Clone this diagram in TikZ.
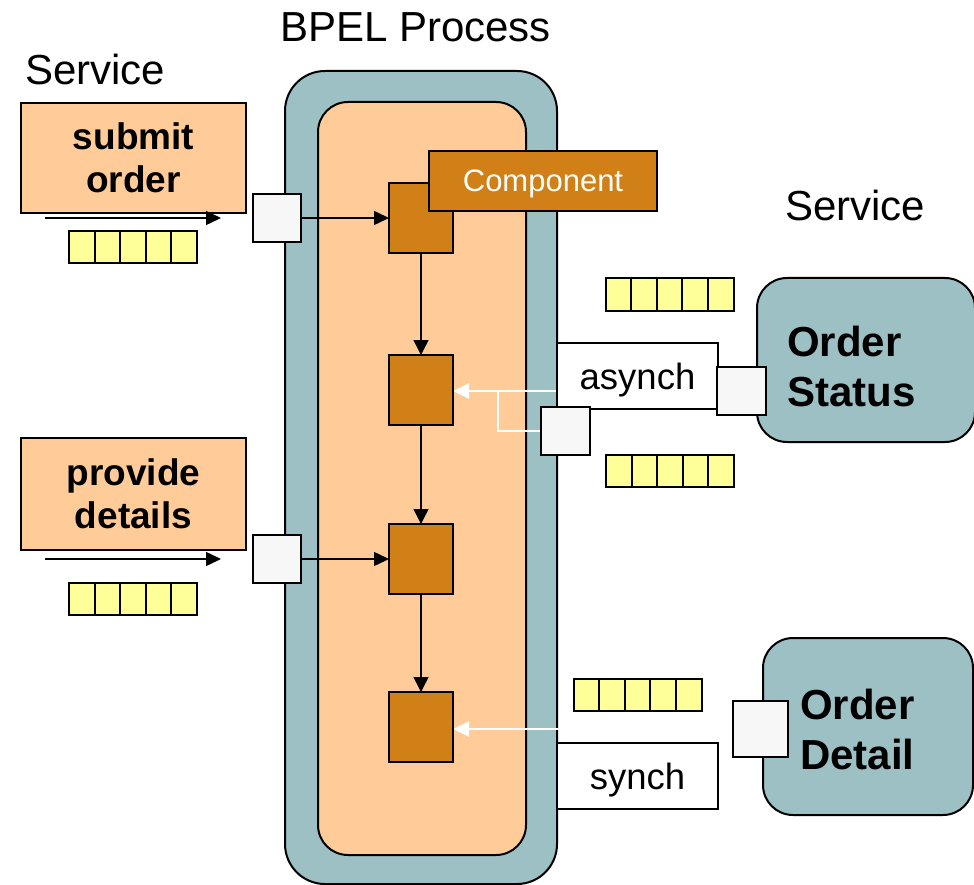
\documentclass[tikz,border=0pt]{standalone}
\usepackage{fontspec}
\setmainfont{Liberation Sans}
\usetikzlibrary{arrows.meta}
\definecolor{bpelblue}{RGB}{157,192,196}
\definecolor{peach}{RGB}{255,204,153}
\definecolor{comporange}{RGB}{208,128,22}
\definecolor{qyellow}{RGB}{255,255,153}
\definecolor{portgray}{RGB}{247,247,247}
\pgfdeclarelayer{back}
\pgfdeclarelayer{conn}
\pgfsetlayers{back,conn,main}
\begin{document}
\begin{tikzpicture}[x=1pt,y=-1pt,
  box/.style={draw=black, line width=2pt, inner sep=0pt, outer sep=0pt},
  portbox/.style={box, fill=portgray},
  compbox/.style={box, fill=comporange, minimum width=64pt, minimum height=70pt},
  svcbox/.style={box, fill=peach, minimum width=225pt, align=center,
     font=\fontsize{37pt}{43pt}\selectfont\bfseries},
  queue/.style={box, fill=qyellow, minimum width=128pt, minimum height=32pt},
  qline/.style={line width=2pt},
  msgbox/.style={box, fill=white, minimum width=161pt, minimum height=66pt,
     font=\fontsize{36.5pt}{42pt}\selectfont, text depth=0pt},
  extsvc/.style={box, fill=bpelblue, rounded corners=30pt},
  lbl/.style={inner sep=0pt, font=\fontsize{42pt}{50pt}\selectfont},
  svcname/.style={inner sep=0pt, align=left, font=\fontsize{42pt}{50pt}\selectfont\bfseries},
  flow/.style={line width=1.5pt, -{Triangle[length=15pt,width=14pt]}},
  vflow/.style={line width=1.5pt, -{Triangle[length=15pt,width=15pt]}},
  wflow/.style={draw=white, line width=2pt, -{Triangle[length=16pt,width=15pt]}},
  wline/.style={draw=white, line width=2pt}
]
\useasboundingbox (0,0) rectangle (974,885);

% BPEL process containers (bottom layer)
\begin{pgfonlayer}{back}
\node[box, fill=bpelblue, rounded corners=40pt, minimum width=272pt, minimum height=813pt] (outer) at (421,477.5) {};
\node[box, fill=peach, rounded corners=30pt, minimum width=208pt, minimum height=753pt] (inner) at (422,478.5) {};
\end{pgfonlayer}

% external services (boxes)
\node[extsvc, minimum width=218pt, minimum height=164pt] (os) at (866,360) {};
\node[extsvc, minimum width=210pt, minimum height=177pt] (od) at (868,726.5) {};

% components
\node[compbox] (c1) at (421,218) {};
\node[compbox] (c2) at (421,390) {};
\node[compbox] (c3) at (421,559) {};
\node[compbox] (c4) at (421,727) {};

% message boxes
\node[msgbox] (asynch) at (637.5,376) {asynch};
\node[msgbox] (synch) at (637.5,776) {synch};

% ports
\node[portbox, minimum width=49pt, minimum height=48pt] (pos) at (741.5,391) {};
\node[portbox, minimum width=49pt, minimum height=48pt] (pas) at (565.5,431) {};
\node[portbox, minimum width=55pt, minimum height=56pt] (pod) at (760.5,729) {};
\node[portbox, minimum width=48pt, minimum height=48pt] (p1) at (277,218) {};
\node[portbox, minimum width=48pt, minimum height=48pt] (p2) at (277,559) {};

% white connectors (under the message boxes, over the containers)
\begin{pgfonlayer}{conn}
\coordinate (br) at (498,391);
\draw[wflow] (pos.west) -- (pos.west -| c2.east);
\draw[wline] (br) |- (pas.west);
\draw[wflow] (pod.west) -- (pod.west -| c4.east);
\end{pgfonlayer}

% black connectors
\draw[flow] (p1.east) -- (c1.west);
\draw[flow] (p2.east) -- (c3.west);
\draw[vflow] (c1.south) -- (c2.north);
\draw[vflow] (c2.south) -- (c3.north);
\draw[vflow] (c3.south) -- (c4.north);

% component label
\node[box, fill=comporange, minimum width=228pt, minimum height=60pt, text=white,
  font=\fontsize{31pt}{36pt}\selectfont, text depth=0pt] (complbl) at (543,181) {Component};

% service boxes on the left
\node[svcbox, minimum height=110pt] (submit) at (133.5,158) {submit\\order};
\node[svcbox, minimum height=112pt] (provide) at (133.5,494) {provide\\details};

\coordinate (a1s) at (45,218);
\coordinate (a1e) at (221,218);
\coordinate (a2s) at (45,559);
\coordinate (a2e) at (221,559);
\draw[flow] (a1s) -- (a1e);
\draw[flow] (a2s) -- (a2e);

% queues
\node[queue] (q1) at (133,247) {};
\node[queue] (q2) at (133,599) {};
\node[queue] (q3) at (669.5,294.5) {};
\node[queue] (q4) at (670,471) {};
\node[queue] (q5) at (637.5,694.5) {};
\foreach \q in {q1,q2,q3,q4,q5}
  \foreach \i in {1,...,4}
    \draw[qline] ([xshift={25.6pt*\i}]\q.north west) -- ([xshift={25.6pt*\i}]\q.south west);

% labels
\node[lbl, anchor=base west] (bpeltitle) at (280,42) {BPEL Process};
\node[lbl, anchor=base west] (svcleft) at (25,85) {Service};
\node[lbl, anchor=base west] (svcright) at (785,221) {Service};
\node[svcname, anchor=north west] (ostext) at (787,326) {Order\\Status};
\node[svcname, anchor=north west] (odtext) at (800,689) {Order\\Detail};
\end{tikzpicture}
\end{document}
